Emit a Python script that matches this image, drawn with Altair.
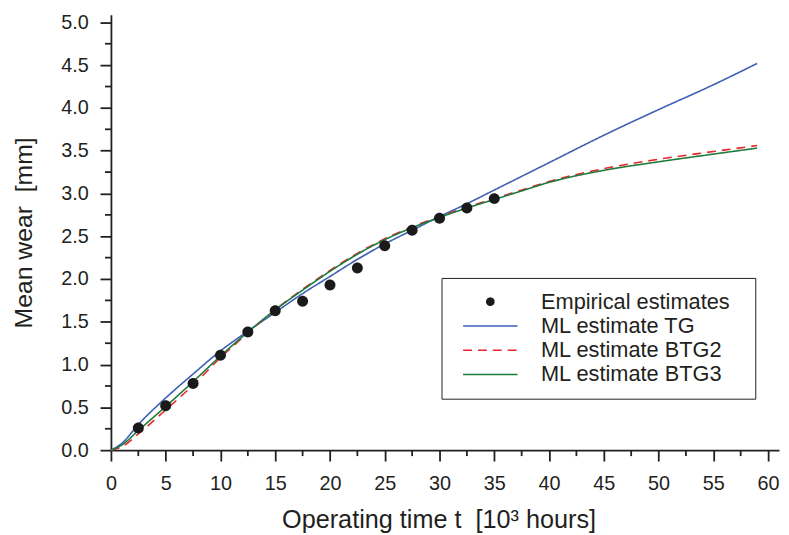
import altair as alt
import pandas as pd

FONT = "Liberation Sans"
TXT = "#231f20"

# --- data ---
t_grid = [0, 1, 2.5, 5, 7.5, 10, 12.5, 15, 17.5, 20, 22.5, 25, 27.5, 30, 32.5, 35, 37.5, 40, 45, 50, 55, 59]
tg   = [0, 0.08, 0.30, 0.61, 0.89, 1.16, 1.39, 1.61, 1.83, 2.03, 2.23, 2.41, 2.57, 2.73, 2.88, 3.04, 3.20, 3.36, 3.68, 3.98, 4.27, 4.52]
btg2 = [0, 0.04, 0.19, 0.47, 0.76, 1.08, 1.37, 1.64, 1.88, 2.10, 2.30, 2.47, 2.61, 2.73, 2.84, 2.94, 3.04, 3.14, 3.29, 3.40, 3.49, 3.56]
btg3 = [0, 0.06, 0.23, 0.51, 0.80, 1.10, 1.38, 1.64, 1.87, 2.09, 2.29, 2.46, 2.60, 2.72, 2.83, 2.93, 3.03, 3.13, 3.27, 3.37, 3.46, 3.53]

emp_t = [2.5, 5, 7.5, 10, 12.5, 15, 17.5, 20, 22.5, 25, 27.5, 30, 32.5, 35]
emp_y = [0.26, 0.52, 0.78, 1.11, 1.38, 1.63, 1.74, 1.93, 2.13, 2.39, 2.57, 2.71, 2.83, 2.94]

series_names = ["Empirical estimates", "ML estimate TG", "ML estimate BTG2", "ML estimate BTG3"]
series_colors = ["#1a1a1a", "#3d5fb4", "#e8262c", "#1f7a3e"]
series_dashes = [[1, 0], [1, 0], [9, 6], [1, 0]]
CIRCLE = "M-0.65,0A0.65,0.65,0,1,0,0.65,0A0.65,0.65,0,1,0,-0.65,0Z"
LINE = "M-5,0L5,0"
series_shapes = [CIRCLE, LINE, LINE, LINE]

x_major = [0, 5, 10, 15, 20, 25, 30, 35, 40, 45, 50, 55, 60]
x_minor = [2.5, 7.5, 12.5, 17.5, 22.5, 27.5, 32.5, 37.5, 42.5, 47.5, 52.5, 57.5]
y_major = [0, 0.5, 1.0, 1.5, 2.0, 2.5, 3.0, 3.5, 4.0, 4.5, 5.0]
y_minor = [0.25, 0.75, 1.25, 1.75, 2.25, 2.75, 3.25, 3.75, 4.25, 4.75]

W, H = 675, 440
MINOR = 6

rows = []
for name, vals in zip(series_names[1:], [tg, btg2, btg3]):
    for t, v in zip(t_grid, vals):
        rows.append({"t": t, "value": v, "series": name})
df_lines = pd.DataFrame(rows)
df_emp = pd.DataFrame({"t": emp_t, "value": emp_y, "series": series_names[0]})
df_xminor = pd.DataFrame({"t": x_minor})
df_yminor = pd.DataFrame({"value": y_minor})

xs = alt.Scale(domain=[0, 61], nice=False, zero=False)
ys = alt.Scale(domain=[0, 5.09], nice=False, zero=False)
color_scale = alt.Scale(domain=series_names, range=series_colors)
dash_scale = alt.Scale(domain=series_names, range=series_dashes)
shape_scale = alt.Scale(domain=series_names, range=series_shapes)

leg = alt.Legend(
    title="\u00a0", titleOrient="right", titleFontSize=1, titlePadding=13,
    orient="none", legendX=334, legendY=266,
    labelFont=FONT, labelFontSize=22, labelColor=TXT, labelLimit=400,
    symbolSize=121, symbolStrokeWidth=1.6, symbolOffset=25.3, labelOffset=40.2,
    rowPadding=2.5, padding=13, strokeColor=TXT, fillColor="white",
)

x_axis = alt.Axis(
    values=x_major, grid=False, tickSize=11, labelFlush=False,
    tickColor=TXT, tickWidth=1.8, domainColor=TXT, domainWidth=1.8,
    labelFont=FONT, labelFontSize=20, labelColor=TXT, labelPadding=13,
    title="Operating time t\u00a0\u00a0[10³ hours]", titleFont=FONT, titleFontSize=25.5,
    titleFontWeight="normal", titleColor=TXT, titlePadding=14, titleX=331,
)
y_axis = alt.Axis(
    values=y_major, format=".1f", grid=False, tickSize=11,
    tickColor=TXT, tickWidth=1.8, domainColor=TXT, domainWidth=1.8,
    labelFont=FONT, labelFontSize=20, labelColor=TXT, labelPadding=12,
    title="Mean wear\u00a0\u00a0[mm]", titleFont=FONT, titleFontSize=25,
    titleFontWeight="normal", titleColor=TXT, titlePadding=24,
)

x_minor_ticks = alt.Chart(df_xminor).mark_rule(color=TXT, strokeWidth=1.8).encode(
    x=alt.X("t:Q", scale=xs, axis=x_axis),
    y=alt.value(H), y2=alt.value(H + MINOR),
)
y_minor_ticks = alt.Chart(df_yminor).mark_rule(color=TXT, strokeWidth=1.8).encode(
    y=alt.Y("value:Q", scale=ys, axis=y_axis),
    x=alt.value(0), x2=alt.value(-MINOR),
)

lines = alt.Chart(df_lines).mark_line(strokeWidth=1.6, interpolate="monotone").encode(
    x=alt.X("t:Q", scale=xs, axis=x_axis),
    y=alt.Y("value:Q", scale=ys, axis=y_axis),
    color=alt.Color("series:N", scale=color_scale, legend=leg),
    strokeDash=alt.StrokeDash("series:N", scale=dash_scale, legend=leg),
)

points = alt.Chart(df_emp).mark_point(filled=True, size=290, opacity=1).encode(
    x=alt.X("t:Q", scale=xs, axis=x_axis),
    y=alt.Y("value:Q", scale=ys, axis=y_axis),
    color=alt.Color("series:N", scale=color_scale, legend=leg),
    shape=alt.Shape("series:N", scale=shape_scale, legend=leg),
)

chart = alt.layer(x_minor_ticks, y_minor_ticks, lines, points).properties(
    width=W, height=H,
    autosize=alt.AutoSizeParams(type="none"),
    padding={"left": 104, "top": 4, "right": 2, "bottom": 83},
).configure_view(stroke=None)

chart.save("out.html", embed_options={"renderer": "svg", "actions": False})
